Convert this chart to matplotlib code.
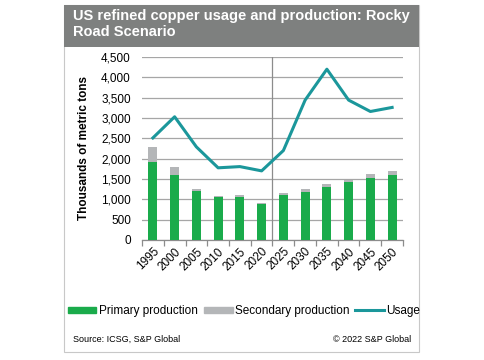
import numpy as np
import matplotlib.pyplot as plt
from matplotlib.patches import Rectangle
from matplotlib.lines import Line2D

plt.rcParams['font.family'] = ['Liberation Sans', 'DejaVu Sans']

years = ['1995', '2000', '2005', '2010', '2015', '2020',
         '2025', '2030', '2035', '2040', '2045', '2050']
primary = [1930, 1590, 1200, 1055, 1055, 885, 1115, 1185, 1300, 1425, 1515, 1595]
secondary = [345, 195, 60, 35, 40, 30, 50, 60, 75, 55, 105, 105]
usage = [2510, 3030, 2290, 1775, 1805, 1700, 2200, 3440, 4200, 3440, 3160, 3260]

GREEN = '#1aab4b'
GREY = '#b4b6b8'
TEAL = '#1b979b'

fig = plt.figure(figsize=(4.85, 3.6), dpi=100)

# outer frame + header band
W, H = 485.0, 360.0
fig.patches.append(Rectangle((64 / W, 1 - 352 / H), (419 - 64) / W, (352 - 5) / H,
                             transform=fig.transFigure, facecolor='white',
                             edgecolor='#c8c8c8', lw=0.8, zorder=-1))
fig.patches.append(Rectangle((64 / W, 1 - 46.5 / H), (419 - 64) / W, (46.5 - 5) / H,
                             transform=fig.transFigure, facecolor='#7e807f',
                             edgecolor='none', zorder=-1))
fig.text(73 / W, 1 - 9 / H, 'US refined copper usage and production: Rocky\nRoad Scenario',
         color='white', fontsize=10.5, fontweight='bold', va='top', ha='left',
         linespacing=1.15)

ax = fig.add_axes([142 / W, 1 - 240 / H, (403 - 142) / W, (240 - 57) / H])
ax.set_zorder(2)
ax.patch.set_alpha(0)
x = np.arange(len(years))
ax.bar(x, primary, width=0.42, color=GREEN, zorder=3)
ax.bar(x, secondary, bottom=primary, width=0.42, color=GREY, zorder=3)
ax.plot(x, usage, color=TEAL, lw=2.2, zorder=4)

ax.set_xlim(-0.5, len(years) - 0.5)
ax.set_ylim(0, 4500)
ax.set_yticks(np.arange(0, 4501, 500))
ax.set_yticklabels([f'{v:,}' for v in range(0, 4501, 500)], fontsize=8.5)
ax.yaxis.grid(True, color='#a6a6a6', lw=0.9, zorder=0)
ax.axvline(5.5, color='#8c8c8c', lw=0.9, zorder=2)
ax.tick_params(axis='y', length=0, pad=8)

ax.set_xticks(x)
ax.set_xticklabels(years, rotation=45, ha='right', rotation_mode='anchor', fontsize=8.5)
ax.set_xticks(np.arange(-0.5, len(years)), minor=True)
ax.tick_params(axis='x', which='major', length=0, pad=4)
ax.tick_params(axis='x', which='minor', length=4, color='#8c8c8c', width=0.9)

for s in ['top', 'right', 'left']:
    ax.spines[s].set_visible(False)
ax.spines['bottom'].set_color('#8c8c8c')
ax.spines['bottom'].set_linewidth(0.9)

ax.set_ylabel('Thousands of metric tons', fontsize=8.5, fontweight='bold', labelpad=8)

handles = [Rectangle((0, 0), 1, 1, color=GREEN),
           Rectangle((0, 0), 1, 1, color=GREY),
           Line2D([], [], color=TEAL, lw=2.2)]
fig.legend(handles, ['Primary production', 'Secondary production', 'Usage'],
           loc='center', bbox_to_anchor=(244 / W, 1 - 311 / H), ncol=3, frameon=False,
           fontsize=8.5, handlelength=2.45, handleheight=0.45, handletextpad=0.2,
           columnspacing=0.5, borderaxespad=0, borderpad=0)

fig.text(73 / W, 1 - 339 / H, 'Source: ICSG, S&P Global', fontsize=6.5, va='center', ha='left')
fig.text(411 / W, 1 - 339 / H, '\u00a9 2022 S&P Global', fontsize=6.5, va='center', ha='right')

fig.savefig('out.png', dpi=100)
